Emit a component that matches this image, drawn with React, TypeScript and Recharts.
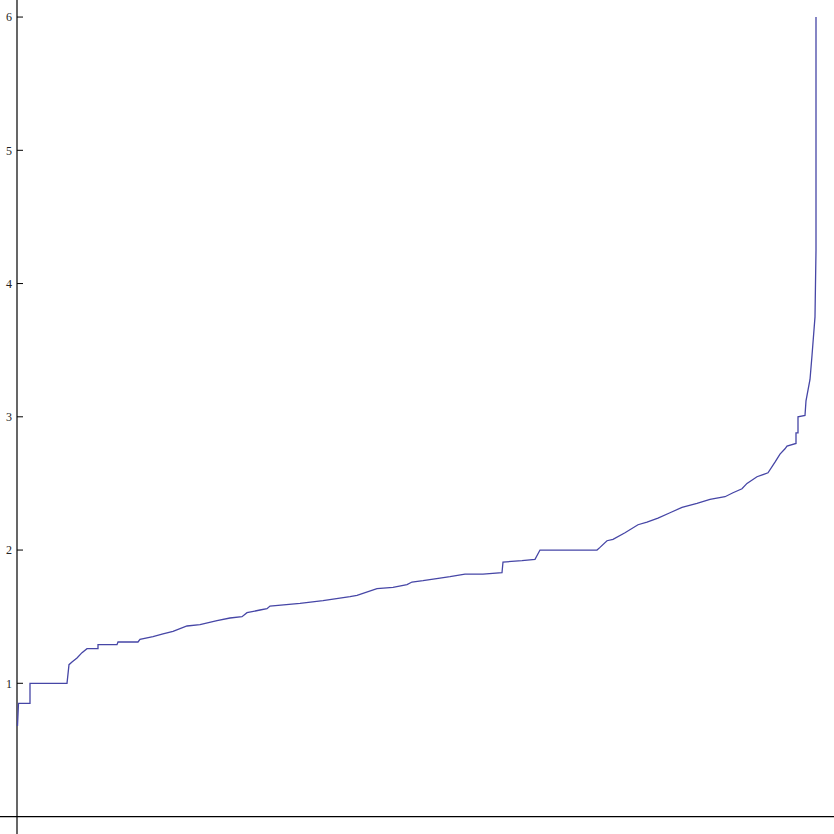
import { LineChart, Line, XAxis, YAxis, ReferenceLine } from 'recharts'

// sorted sample: position along the ranking and value
const xs = [
  0.5, 1.5, 13, 13, 50, 52, 55, 60, 65, 70, 81, 81, 100, 101, 121, 123, 136, 146, 156, 170,
  183, 200, 213, 225, 230, 243, 250, 253, 283, 306, 333, 340, 360, 376, 390, 395, 406, 423, 433, 448,
  466, 485, 486, 505, 518, 523, 580, 583, 590, 596, 608, 621, 630, 641, 653, 665, 680, 693, 708, 716,
  725, 730, 740, 751, 758, 763, 768, 770, 779, 779, 781, 781, 788, 789, 793, 795, 798, 799, 799,
]
const values = [
  0.68, 0.85, 0.85, 1.0, 1.0, 1.14, 1.16, 1.19, 1.23, 1.26, 1.26, 1.29, 1.29, 1.31, 1.31, 1.33, 1.35, 1.37, 1.39, 1.43,
  1.44, 1.47, 1.49, 1.5, 1.53, 1.55, 1.56, 1.58, 1.6, 1.62, 1.65, 1.66, 1.71, 1.72, 1.74, 1.76, 1.77, 1.79, 1.8, 1.82,
  1.82, 1.83, 1.91, 1.92, 1.93, 2.0, 2.0, 2.02, 2.07, 2.08, 2.13, 2.19, 2.21, 2.24, 2.28, 2.32, 2.35, 2.38, 2.4, 2.43,
  2.46, 2.5, 2.55, 2.58, 2.66, 2.72, 2.76, 2.78, 2.8, 2.88, 2.88, 3.0, 3.01, 3.12, 3.28, 3.46, 3.75, 4.25, 6.0,
]
const yTicks = [1, 2, 3, 4, 5, 6]

const data = xs.map((x, i) => ({ x, v: values[i] }))

export default function App() {
  return (
    <div style={{ position: 'absolute', left: 0, top: 0 }}>
      <LineChart width={834} height={834} data={data} margin={{ top: 0, right: 0, bottom: 0, left: 0 }}>
        <XAxis type="number" dataKey="x" domain={[-17, 817]} allowDataOverflow hide />
        <YAxis type="number" domain={[-0.131, 6.128]} allowDataOverflow hide />
        <ReferenceLine x={0} stroke="#000" strokeWidth={1.2} />
        <ReferenceLine y={0} stroke="#000" strokeWidth={1.2} />
        {yTicks.map((t) => (
          <ReferenceLine
            key={t}
            segment={[{ x: 0, y: t }, { x: 6, y: t }]}
            stroke="#000"
            strokeWidth={1}
            label={{
              value: String(t),
              position: 'left',
              offset: 5,
              fill: '#222',
              fontSize: 12,
              fontFamily: '"Liberation Serif", "DejaVu Serif", serif',
            }}
          />
        ))}
        <Line
          type="linear"
          dataKey="v"
          stroke="#4646a6"
          strokeWidth={1.3}
          dot={false}
          activeDot={false}
          isAnimationActive={false}
        />
      </LineChart>
    </div>
  )
}
